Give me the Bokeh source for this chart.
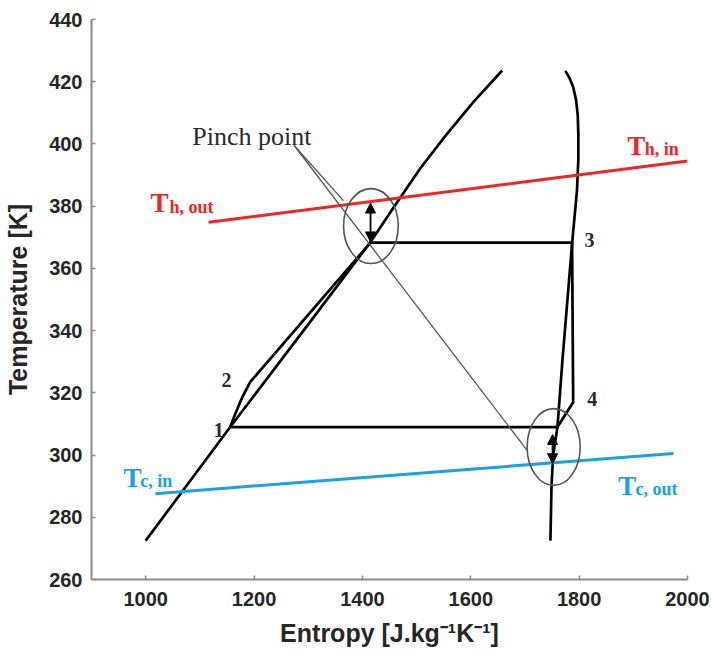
from bokeh.plotting import figure
from bokeh.models import Range1d, FixedTicker, Arrow, NormalHead, ColumnDataSource
from bokeh.core.properties import value
from bokeh.embed import file_html
from bokeh.resources import INLINE

# ---- data (entropy J/kg/K, temperature K) ----
liq_s = [1000, 1156, 1300, 1415, 1460, 1507, 1555, 1605, 1658]
liq_T = [272.5, 309, 342, 368.5, 380.2, 392.2, 403, 413.5, 423.6]

vap_s = [1747, 1749, 1752, 1760, 1769, 1787, 1796, 1798.5, 1798.5, 1797.5, 1794.5, 1789, 1782, 1774.5]
vap_T = [272.5, 290, 300, 309, 330, 368, 385, 395, 403, 409, 414, 418.3, 421.3, 423.5]

cyc_s = [1156, 1166, 1178, 1193, 1415, 1787, 1789, 1760, 1156]
cyc_T = [309, 313.5, 318.5, 323.5, 368.3, 368.3, 317, 309, 309]

hot_s = [1116, 2000]
hot_T = [374.8, 394.5]
cold_s = [1018, 1974]
cold_T = [287.6, 300.5]

ell_s = [1415.7, 1753]
ell_T = [373.6, 302.6]
ell_w = [101, 98]
ell_h = [24.1, 24.7]

leader_s = [[1274, 1365], [1274, 1704]]
leader_T = [[399.5, 381.8], [399.5, 301.5]]

pinch_arrows = [(1415, 368.5, 1415, 381), (1751, 297.2, 1751, 306.6)]

num_text = ["1", "2", "3", "4"]
num_s = [1135, 1149, 1819, 1824]
num_T = [308.2, 324, 369, 318]

x_ticks = [1000, 1200, 1400, 1600, 1800, 2000]
y_ticks = [260, 280, 300, 320, 340, 360, 380, 400, 420, 440]

RED = "#f02626"
BLUE = "#1ba1e6"

p = figure(width=714, height=659, output_backend="svg", toolbar_location=None,
           x_range=Range1d(900, 2000), y_range=Range1d(260, 440),
           min_border_left=91, min_border_right=27, min_border_top=19, min_border_bottom=80)
p.outline_line_color = None
p.xgrid.visible = False
p.ygrid.visible = False
p.background_fill_color = "white"
p.border_fill_color = "white"

for ax in (p.xaxis[0], p.yaxis[0]):
    ax.axis_line_color = "#8a8a8a"
    ax.axis_line_width = 2
    ax.major_tick_line_color = "#8a8a8a"
    ax.major_tick_line_width = 1.5
    ax.major_tick_in = 4
    ax.major_tick_out = 0
    ax.minor_tick_line_color = None
    ax.major_label_text_font = "Liberation Sans"
    ax.major_label_text_font_style = "bold"
    ax.major_label_text_font_size = "20px"
    ax.major_label_text_color = "#262626"
    ax.axis_label_text_font = "Liberation Sans"
    ax.axis_label_text_font_style = "bold"
    ax.axis_label_text_font_size = "25px"
    ax.axis_label_text_color = "#262626"

p.xaxis.ticker = FixedTicker(ticks=x_ticks)
p.yaxis.ticker = FixedTicker(ticks=y_ticks)
p.xaxis.axis_label = "Entropy [J.kg\u207b\u00b9K\u207b\u00b9]"
p.yaxis.axis_label = "Temperature [K]"
p.xaxis.major_label_standoff = 12
p.xaxis.axis_label_standoff = 10
p.yaxis.major_label_standoff = 9
p.yaxis.axis_label_standoff = 14

# saturation dome
p.line(liq_s, liq_T, line_color="black", line_width=2.7, line_join="round")
p.line(vap_s, vap_T, line_color="black", line_width=2.7, line_join="round")
# cycle
p.line(cyc_s, cyc_T, line_color="black", line_width=2.7, line_join="round")
# heat source / sink
p.line(hot_s, hot_T, line_color=RED, line_width=3)
p.line(cold_s, cold_T, line_color=BLUE, line_width=3)

# pinch annotations
p.ellipse(x=ell_s, y=ell_T, width=ell_w, height=ell_h, fill_color=None,
          line_color="#555555", line_width=1.6)
p.multi_line(leader_s, leader_T, line_color="#555555", line_width=1.3)
for xs, ys, xe, ye in pinch_arrows:
    p.add_layout(Arrow(x_start=xs, y_start=ys, x_end=xe, y_end=ye,
                       start=NormalHead(size=10, fill_color="black", line_color="black"),
                       end=NormalHead(size=10, fill_color="black", line_color="black"),
                       line_color="black", line_width=1.8))

serif = value("Liberation Serif")
p.text(x=[1086], y=[402.3], text=["Pinch point"], text_font=serif,
       text_font_size="26px", text_color="#2a2a2a", text_baseline="alphabetic")

# state numbers
p.text(x=num_s, y=num_T, text=num_text, text_font=serif, text_font_style="bold",
       text_font_size="20px", text_color="#2a2a33", text_align="center",
       text_baseline="middle")

# T labels (main letter + subscript)
big_s = [1889, 1009, 959, 1872]
big_T = [399.5, 380.9, 292.5, 289.9]
big_c = [RED, RED, BLUE, BLUE]
sub_text = ["h, in", "h, out", "c, in", "c, out"]
sub_s = [1921, 1044, 990, 1904]
sub_T = [398.5, 379.6, 291.8, 289.2]
src_big = ColumnDataSource(dict(x=big_s, y=big_T, t=["T"] * 4, c=big_c))
src_sub = ColumnDataSource(dict(x=sub_s, y=sub_T, t=sub_text, c=big_c))
p.text(x="x", y="y", text="t", text_color="c", source=src_big, text_font=serif,
       text_font_style="bold", text_font_size="27px", text_baseline="alphabetic")
p.text(x="x", y="y", text="t", text_color="c", source=src_sub, text_font=serif,
       text_font_style="bold", text_font_size="18px", text_baseline="alphabetic")

open("out.html", "w").write(file_html(p, INLINE))
